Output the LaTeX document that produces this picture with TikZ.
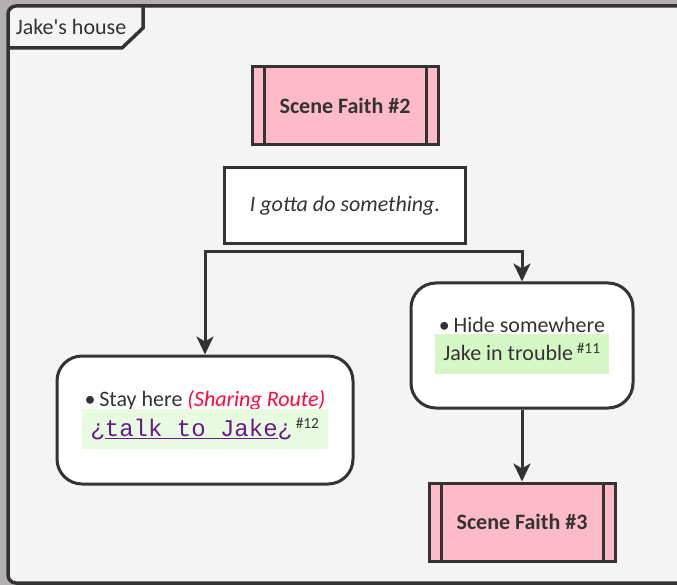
\documentclass[tikz,border=0pt]{standalone}
\usepackage{fontspec}
\setmainfont{Carlito}
\setmonofont{Liberation Mono}
\usetikzlibrary{arrows.meta,positioning}
\definecolor{outside}{HTML}{B5B0B0}
\definecolor{framebg}{HTML}{F4F4F4}
\definecolor{linecol}{HTML}{333333}
\definecolor{scenepink}{HTML}{FFBAC9}
\definecolor{stategreen}{HTML}{E6FBE0}
\definecolor{varggreen}{HTML}{D4F7C5}
\definecolor{routered}{HTML}{FF0A3A}
\definecolor{linkpurple}{HTML}{6A1A8A}
\setlength{\fboxsep}{8pt}
\newcommand{\greenstrut}{\rule[-5pt]{0pt}{24pt}}

\begin{document}
\begin{tikzpicture}[x=1pt,y=-1pt,>={Stealth[length=18pt,width=17pt,inset=5pt]},line width=3,draw=linecol,text=linecol,
	scene/.style={rectangle, draw=linecol, fill=scenepink, minimum width=186, minimum height=78,
		font=\fontsize{22}{26}\selectfont\bfseries,
		path picture={\draw[linecol,line width=3]
			([xshift=12]path picture bounding box.north west) -- ([xshift=12]path picture bounding box.south west)
			([xshift=-12]path picture bounding box.north east) -- ([xshift=-12]path picture bounding box.south east);}},
	say/.style={rectangle, draw=linecol, fill=white, minimum width=241, minimum height=76,
		font=\fontsize{22}{26}\selectfont\itshape},
	choice/.style={rectangle, rounded corners=25, draw=linecol, fill=white, align=center,
		font=\fontsize{22}{30}\selectfont}]

	\useasboundingbox (0,0) rectangle (677,585);
	\fill[outside] (0,0) rectangle (677,585);
	% frame of the place
	\draw[fill=framebg,line width=3.5,rounded corners=8] (8,6) rectangle (700,583);
	\draw[line width=3.5] (8,48) -- (122,48) -- (143,28) -- (143,6);
	\node[font=\fontsize{22}{26}\selectfont] (place) at (71,27) {Jake\textquotesingle s house};

	\node[scene]         (scene2) at (345,106)        {Scene Faith \#2};
	\node[say]           (say) [below=20pt of scene2] {I gotta do something.};
	\node[choice, minimum width=222, minimum height=125] (hide) at (522,345.5)
		{\textbullet\,Hide somewhere\\[-2pt]
		 \colorbox{varggreen}{\greenstrut Jake in trouble\,\textsuperscript{\#11}}};
	\node[choice, minimum width=296, minimum height=128] (stay) at (205,420)
		{\textbullet\,Stay here \textcolor{routered}{\itshape(Sharing Route)}\\[-2pt]
		 \colorbox{stategreen}{\greenstrut\textcolor{linkpurple}{\fontsize{24}{28}\selectfont\ttfamily ¿\underline{talk to Jake}¿}\,\textsuperscript{\#12}}};
	\node[scene]         (scene3) [below=72pt of hide] {Scene Faith \#3};

	\coordinate (split) at (345,252);

	\path[->] (hide) edge (scene3);
	\draw[<->] (stay.north) |- (split) -| (hide.north);

\end{tikzpicture}
\end{document}
